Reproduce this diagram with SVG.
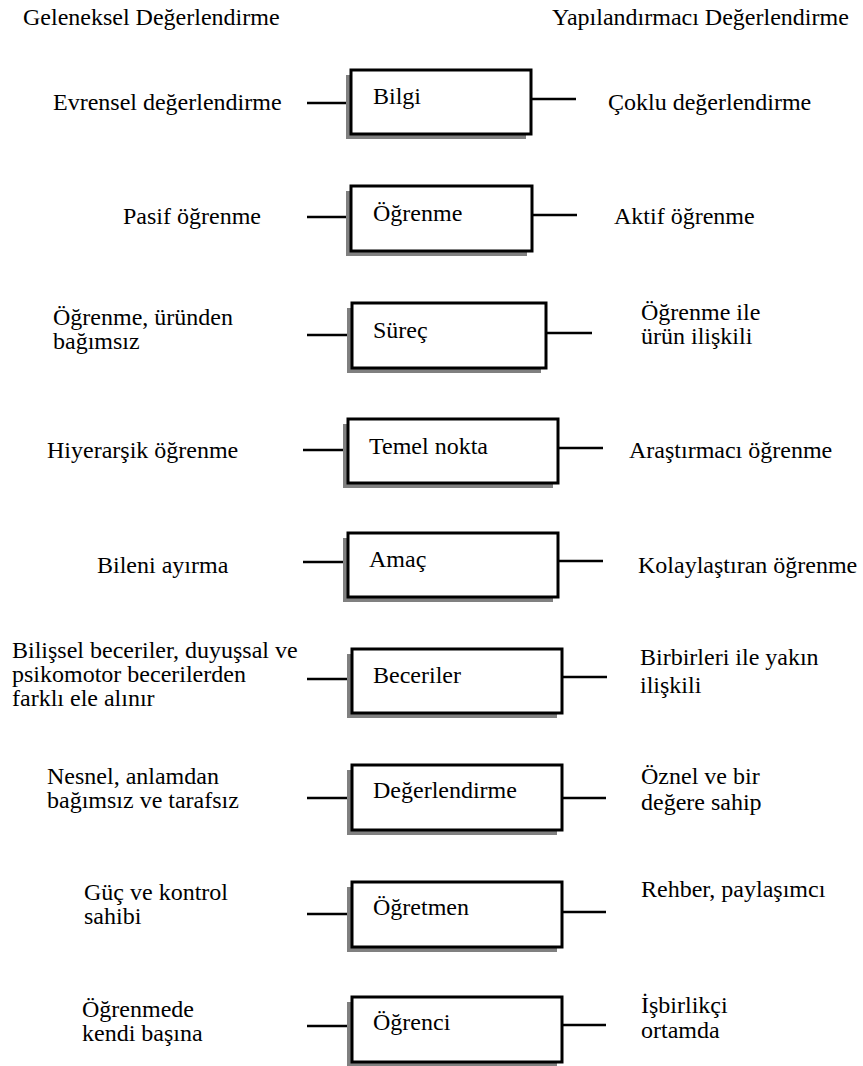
<svg xmlns="http://www.w3.org/2000/svg" width="863" height="1066" viewBox="0 0 863 1066" font-family="'Liberation Serif', 'DejaVu Serif', serif" font-size="24">
<style>
text{font-family:'Liberation Serif','DejaVu Serif',serif;font-size:24px;fill:#000}
.sh{fill:#808080}
.bx{fill:#fff;stroke:#000;stroke-width:3}
.cn{stroke:#000;stroke-width:2.5;fill:none}
</style>
<rect width="863" height="1066" fill="#fff"/>
<g id="headers">
<text x="23" y="25">Geleneksel Değerlendirme</text>
<text x="552" y="25">Yapılandırmacı Değerlendirme</text>
</g>
<g id="connectors">
<line class="cn" x1="307" y1="103" x2="351" y2="103"/><line class="cn" x1="531" y1="99" x2="576" y2="99"/>
<line class="cn" x1="307" y1="217" x2="351" y2="217"/><line class="cn" x1="532" y1="215" x2="577" y2="215"/>
<line class="cn" x1="307" y1="335" x2="352" y2="335"/><line class="cn" x1="546" y1="333" x2="592" y2="333"/>
<line class="cn" x1="303" y1="450" x2="348" y2="450"/><line class="cn" x1="558" y1="448" x2="603" y2="448"/>
<line class="cn" x1="303" y1="562" x2="348" y2="562"/><line class="cn" x1="558" y1="561" x2="603" y2="561"/>
<line class="cn" x1="307" y1="679" x2="352" y2="679"/><line class="cn" x1="562" y1="677" x2="607" y2="677"/>
<line class="cn" x1="307" y1="798" x2="352" y2="798"/><line class="cn" x1="562" y1="798" x2="606" y2="798"/>
<line class="cn" x1="307" y1="914" x2="352" y2="914"/><line class="cn" x1="562" y1="912" x2="606" y2="912"/>
<line class="cn" x1="307" y1="1026" x2="352" y2="1026"/><line class="cn" x1="562" y1="1025" x2="606" y2="1025"/>
</g>
<g id="n1"><rect class="sh" x="346" y="75" width="180" height="64"/><rect class="bx" x="351" y="70" width="180" height="64"/><text x="373" y="104">Bilgi</text></g>
<g id="n2"><rect class="sh" x="346" y="191" width="181" height="65"/><rect class="bx" x="351" y="186" width="181" height="65"/><text x="373" y="221">Öğrenme</text></g>
<g id="n3"><rect class="sh" x="347" y="308" width="194" height="65"/><rect class="bx" x="352" y="303" width="194" height="65"/><text x="373" y="338">Süreç</text></g>
<g id="n4"><rect class="sh" x="343" y="424" width="210" height="64"/><rect class="bx" x="348" y="419" width="210" height="64"/><text x="369" y="454">Temel nokta</text></g>
<g id="n5"><rect class="sh" x="343" y="538" width="210" height="64"/><rect class="bx" x="348" y="533" width="210" height="64"/><text x="369" y="567">Amaç</text></g>
<g id="n6"><rect class="sh" x="347" y="654" width="210" height="64"/><rect class="bx" x="352" y="649" width="210" height="64"/><text x="373" y="683">Beceriler</text></g>
<g id="n7"><rect class="sh" x="347" y="770" width="210" height="65"/><rect class="bx" x="352" y="765" width="210" height="65"/><text x="373" y="798">Değerlendirme</text></g>
<g id="n8"><rect class="sh" x="347" y="887" width="210" height="65"/><rect class="bx" x="352" y="882" width="210" height="65"/><text x="373" y="915">Öğretmen</text></g>
<g id="n9"><rect class="sh" x="347" y="1002" width="210" height="65"/><rect class="bx" x="352" y="997" width="210" height="65"/><text x="373" y="1030">Öğrenci</text></g>
<g id="left-labels">
<text x="53" y="110">Evrensel değerlendirme</text>
<text x="123" y="224">Pasif öğrenme</text>
<text x="53" y="325">Öğrenme, üründen</text>
<text x="53" y="349">bağımsız</text>
<text x="47" y="458">Hiyerarşik öğrenme</text>
<text x="97" y="573">Bileni ayırma</text>
<text x="12" y="658">Bilişsel beceriler, duyuşsal ve</text>
<text x="12" y="682">psikomotor becerilerden</text>
<text x="12" y="706">farklı ele alınır</text>
<text x="47" y="784">Nesnel, anlamdan</text>
<text x="47" y="808">bağımsız ve tarafsız</text>
<text x="84" y="900">Güç ve kontrol</text>
<text x="84" y="924">sahibi</text>
<text x="82" y="1017">Öğrenmede</text>
<text x="82" y="1041">kendi başına</text>
</g>
<g id="right-labels">
<text x="608" y="110">Çoklu değerlendirme</text>
<text x="614" y="224">Aktif öğrenme</text>
<text x="641" y="320">Öğrenme ile</text>
<text x="641" y="344">ürün ilişkili</text>
<text x="629" y="458">Araştırmacı öğrenme</text>
<text x="638" y="573">Kolaylaştıran öğrenme</text>
<text x="640" y="665">Birbirleri ile yakın</text>
<text x="640" y="693">ilişkili</text>
<text x="641" y="784">Öznel ve bir</text>
<text x="641" y="810">değere sahip</text>
<text x="641" y="897">Rehber, paylaşımcı</text>
<text x="641" y="1013">İşbirlikçi</text>
<text x="641" y="1038">ortamda</text>
</g>
</svg>
